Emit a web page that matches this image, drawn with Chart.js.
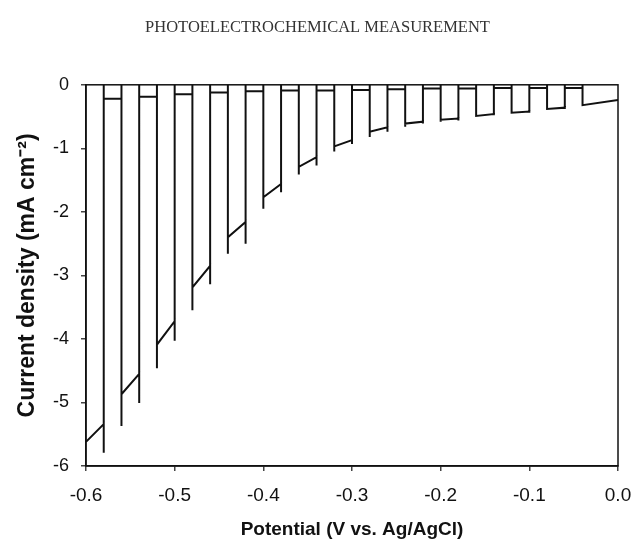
<!DOCTYPE html>
<html lang="en">
<head>
    <meta charset="UTF-8">
    <title>Photoelectrochemical Measurement</title>
    <script src="https://cdn.jsdelivr.net/npm/chart.js"></script>
    <style>
        body { margin: 0; background: #fff; }
        .chart-wrapper { width: 635px; height: 543px; }
    </style>
</head>
<body>
    <div class="chart-wrapper">
        <canvas id="pecChart" width="635" height="543"></canvas>
    </div>

    <script>
        // chopped light sweep: light on / off potentials (V vs. Ag/AgCl)
        const onPotential  = [-0.60, -0.56, -0.52, -0.48, -0.44, -0.40, -0.36, -0.32, -0.28, -0.24, -0.20, -0.16, -0.12, -0.08, -0.04];
        const offPotential = [-0.58, -0.54, -0.50, -0.46, -0.42, -0.38, -0.34, -0.30, -0.26, -0.22, -0.18, -0.14, -0.10, -0.06, 0.00];

        // current density (mA cm-2)
        const spikeOn    = [null, -5.37, -4.46, -3.55, -2.66, -1.95, -1.41, -1.05, -0.82, -0.66, -0.58, -0.50, -0.45, -0.39, -0.33];
        const lightStart = [-5.62, -4.87, -4.09, -3.19, -2.40, -1.77, -1.29, -0.97, -0.74, -0.61, -0.55, -0.49, -0.44, -0.38, -0.32];
        const lightEnd   = [-5.34, -4.55, -3.72, -2.85, -2.16, -1.56, -1.14, -0.87, -0.67, -0.58, -0.53, -0.46, -0.42, -0.36, -0.24];
        const spikeOff   = [-5.79, -5.01, -4.03, -3.14, -2.50, -1.69, -1.27, -0.93, -0.74, -0.61, -0.56, -0.48, -0.44, -0.38, null];
        const darkLevel  = [-0.22, -0.19, -0.15, -0.12, -0.10, -0.09, -0.09, -0.08, -0.07, -0.06, -0.06, -0.05, -0.05, -0.05];

        const xTicks = [-0.6, -0.5, -0.4, -0.3, -0.2, -0.1, 0.0];
        const yTicks = [0, -1, -2, -3, -4, -5, -6];

        let points = [];
        for (let i = 0; i < onPotential.length; i++) {
            if (spikeOn[i] !== null) {
                points.push({ x: onPotential[i], y: 0 }, { x: onPotential[i], y: spikeOn[i] });
            }
            points.push({ x: onPotential[i], y: lightStart[i] }, { x: offPotential[i], y: lightEnd[i] });
            if (i < darkLevel.length) {
                points.push(
                    { x: offPotential[i], y: spikeOff[i] },
                    { x: offPotential[i], y: 0 },
                    { x: offPotential[i], y: darkLevel[i] },
                    { x: onPotential[i + 1], y: darkLevel[i] }
                );
            }
        }

        // box round the plot area
        const frame = {
            id: 'frame',
            afterDatasetsDraw(chart) {
                const { ctx, chartArea: a } = chart;
                ctx.save();
                ctx.strokeStyle = '#111';
                ctx.lineWidth = 1.5;
                ctx.strokeRect(a.left, a.top, a.right - a.left, a.bottom - a.top);
                ctx.restore();
            }
        };

        const sans = "'Liberation Sans', Arial, sans-serif";

        new Chart(document.getElementById('pecChart'), {
            type: 'scatter',
            data: {
                datasets: [{
                    data: points,
                    showLine: true,
                    borderColor: '#111',
                    borderWidth: 2,
                    pointRadius: 0,
                    tension: 0
                }]
            },
            options: {
                responsive: false,
                animation: false,
                devicePixelRatio: 1,
                plugins: {
                    legend: { display: false },
                    tooltip: { enabled: false },
                    title: {
                        display: true,
                        text: 'PHOTOELECTROCHEMICAL MEASUREMENT',
                        color: '#333',
                        font: { family: "'Liberation Serif', 'Times New Roman', serif", size: 16.5, weight: 'normal' },
                        padding: { top: 18, bottom: 47 }
                    }
                },
                scales: {
                    x: {
                        type: 'linear',
                        min: -0.6,
                        max: 0,
                        // room on the right for the "0.0" label
                        afterFit: s => { s.height = 77; s.paddingLeft = 0; s.paddingRight = 17; },
                        afterBuildTicks: s => { s.ticks = xTicks.map(v => ({ value: v })); },
                        ticks: {
                            color: '#111',
                            padding: 13,
                            font: { family: sans, size: 19 },
                            callback: v => Math.abs(v) < 1e-9 ? '0.0' : Number(v).toFixed(1)
                        },
                        grid: { drawOnChartArea: false, drawTicks: true, tickLength: 5, color: '#444', lineWidth: 1.5 },
                        border: { display: true, color: '#111', width: 1.5 },
                        title: {
                            display: true,
                            text: 'Potential (V vs. Ag/AgCl)',
                            color: '#111',
                            font: { family: sans, size: 19, weight: 'bold' },
                            padding: { top: 0, bottom: 2 }
                        }
                    },
                    y: {
                        min: -6,
                        max: 0,
                        afterFit: s => { s.width = 86; },
                        afterBuildTicks: s => { s.ticks = yTicks.map(v => ({ value: v })); },
                        ticks: {
                            color: '#111',
                            padding: 12,
                            font: { family: sans, size: 18 },
                            callback: v => String(v)
                        },
                        grid: { drawOnChartArea: false, drawTicks: true, tickLength: 5, color: '#444', lineWidth: 1.5 },
                        border: { display: true, color: '#111', width: 1.5 },
                        title: {
                            display: true,
                            text: 'Current density (mA cm⁻²)',
                            color: '#111',
                            font: { family: sans, size: 23, weight: 'bold' },
                            padding: { top: 14, bottom: 0 }
                        }
                    }
                }
            },
            plugins: [frame]
        });
    </script>
</body>
</html>
